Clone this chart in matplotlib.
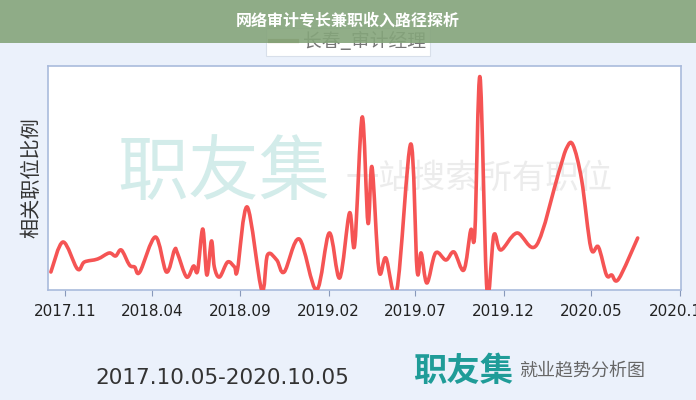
import matplotlib
matplotlib.use('Agg')
import matplotlib.pyplot as plt
import matplotlib.dates as mdates
from matplotlib.patches import Rectangle, PathPatch
from matplotlib.lines import Line2D
from matplotlib.path import Path
import numpy as np
import pandas as pd

plt.rcParams['font.family'] = ['Noto Sans CJK SC', 'DejaVu Sans']

# 数据
dates = ['2017-10-08', '2017-10-29', '2017-11-23', '2017-12-05', '2017-12-28',
         '2018-01-17', '2018-01-28', '2018-02-07', '2018-02-21', '2018-03-02',
         '2018-03-11', '2018-04-07', '2018-04-26', '2018-05-10', '2018-05-15',
         '2018-05-31', '2018-06-12', '2018-06-19', '2018-06-28', '2018-07-05',
         '2018-07-13', '2018-07-18', '2018-07-27', '2018-08-10', '2018-08-22',
         '2018-08-27', '2018-09-13', '2018-10-08', '2018-10-18', '2018-11-03',
         '2018-11-16', '2018-12-12', '2019-01-11', '2019-02-02', '2019-02-20',
         '2019-03-09', '2019-03-18', '2019-03-31', '2019-04-10', '2019-04-17',
         '2019-04-29', '2019-05-11', '2019-05-30', '2019-06-23', '2019-07-04',
         '2019-07-11', '2019-07-21', '2019-08-05', '2019-08-23', '2019-09-06',
         '2019-09-23', '2019-10-05', '2019-10-12', '2019-10-21', '2019-11-02',
         '2019-11-14', '2019-11-26', '2019-12-24', '2020-01-27', '2020-03-05',
         '2020-03-19', '2020-03-30', '2020-04-14', '2020-04-30', '2020-05-13',
         '2020-05-27', '2020-06-05', '2020-06-17', '2020-07-20']
ratio = [18, 48, 21, 28, 31,
         37, 34, 40, 25, 23,
         18, 53, 18, 40, 37,
         13, 24, 19, 61, 15,
         49, 23, 13, 28, 23,
         20, 83, 0, 35, 30,
         18, 51, 0, 57, 12,
         77, 45, 173, 67, 123,
         20, 32, 0, 146, 20,
         37, 7, 37, 30, 38,
         20, 60, 57, 213, 0,
         55, 40, 57, 45, 117,
         142, 145, 110, 42, 43,
         15, 15, 11, 52]
tick_dates = ['2017-11-01', '2018-04-01', '2018-09-01', '2019-02-01', '2019-07-01',
              '2019-12-01', '2020-05-01', '2020-10-01']
tick_labels = ['2017.11', '2018.04', '2018.09', '2019.02', '2019.07',
               '2019.12', '2020.05', '2020.10']

x = mdates.date2num(pd.to_datetime(dates))
y = np.array(ratio, dtype=float)


# 平滑曲线：Catmull-Rom 转贝塞尔路径
def smooth_path(xs, ys):
    verts = [(xs[0], ys[0])]
    codes = [Path.MOVETO]
    n = len(xs)
    for i in range(n - 1):
        x0, y0 = (xs[i - 1], ys[i - 1]) if i > 0 else (xs[i], ys[i])
        x1, y1 = xs[i], ys[i]
        x2, y2 = xs[i + 1], ys[i + 1]
        x3, y3 = (xs[i + 2], ys[i + 2]) if i + 2 < n else (x2, y2)
        c1 = (x1 + (x2 - x0) / 6, y1 + (y2 - y0) / 6)
        c2 = (x2 - (x3 - x1) / 6, y2 - (y3 - y1) / 6)
        verts += [c1, c2, (x2, y2)]
        codes += [Path.CURVE4] * 3
    return Path(verts, codes)


fig = plt.figure(figsize=(6.96, 4.0), dpi=100)
fig.patch.set_facecolor('#ebf1fb')

ax = fig.add_axes([48/696, 1 - 290/400, 633/696, 224/400])
ax.set_facecolor('white')

# 水印
ax.text(0.11, 0.52, '职友集', transform=ax.transAxes, fontsize=51,
        color='#d3ecea', ha='left', va='center', zorder=0)
ax.text(0.47, 0.50, '一站搜索所有职位', transform=ax.transAxes, fontsize=24,
        color='#ececec', ha='left', va='center', zorder=0)

ax.add_patch(PathPatch(smooth_path(x, y), facecolor='none', edgecolor='#f55454',
                       linewidth=2.6, joinstyle='round', capstyle='round', zorder=3))

ax.set_xlim(mdates.date2num(pd.Timestamp('2017-10-03')),
            mdates.date2num(pd.Timestamp('2020-10-03')))
ax.set_ylim(0, 224)
ax.set_yticks([])
ax.set_xticks(mdates.date2num(pd.to_datetime(tick_dates)))
ax.set_xticklabels(tick_labels, fontsize=11, color='#222222', family='DejaVu Sans')
ax.tick_params(axis='x', length=4, color='#8899bb', pad=6)
for sp in ax.spines.values():
    sp.set_color('#a9bbdc')
    sp.set_linewidth(1.2)

ax.set_ylabel('相关职位比例', fontsize=14.5, color='#333333', labelpad=4)

# 图例（部分被标题栏遮住）
fig.patches.append(Rectangle((266/696, 1 - 56/400), 164/696, 28/400,
                             transform=fig.transFigure, facecolor='white',
                             edgecolor='#d8dfea', linewidth=0.8, zorder=1))
fig.lines.append(Line2D([270/696, 297/696], [1 - 41/400, 1 - 41/400],
                        transform=fig.transFigure, color='#a08c5e',
                        linewidth=3, zorder=2))
fig.text(303/696, 1 - 42/400, '长春_审计经理', fontsize=13.5, color='#777777',
         ha='left', va='center', zorder=2)

# 标题栏
fig.patches.append(Rectangle((0, 1 - 43/400), 1, 43/400, transform=fig.transFigure,
                             facecolor='#85a57b', edgecolor='none', alpha=0.9, zorder=5))
fig.text(0.5, 1 - 21/400, '网络审计专长兼职收入路径探析', fontsize=11.5,
         fontweight='bold', color='white', ha='center', va='center', zorder=6)

# 底部信息
fig.text(222/696, 1 - 378/400, '2017.10.05-2020.10.05', fontsize=15.5,
         color='#333333', ha='center', va='center', family='DejaVu Sans')
fig.text(413/696, 1 - 371/400, '职友集', fontsize=24, fontweight='bold',
         color='#1f9c98', ha='left', va='center')
fig.text(519/696, 1 - 371/400, '就业趋势分析图', fontsize=13,
         color='#666666', ha='left', va='center')

fig.savefig('out.png', dpi=100, facecolor=fig.get_facecolor())
